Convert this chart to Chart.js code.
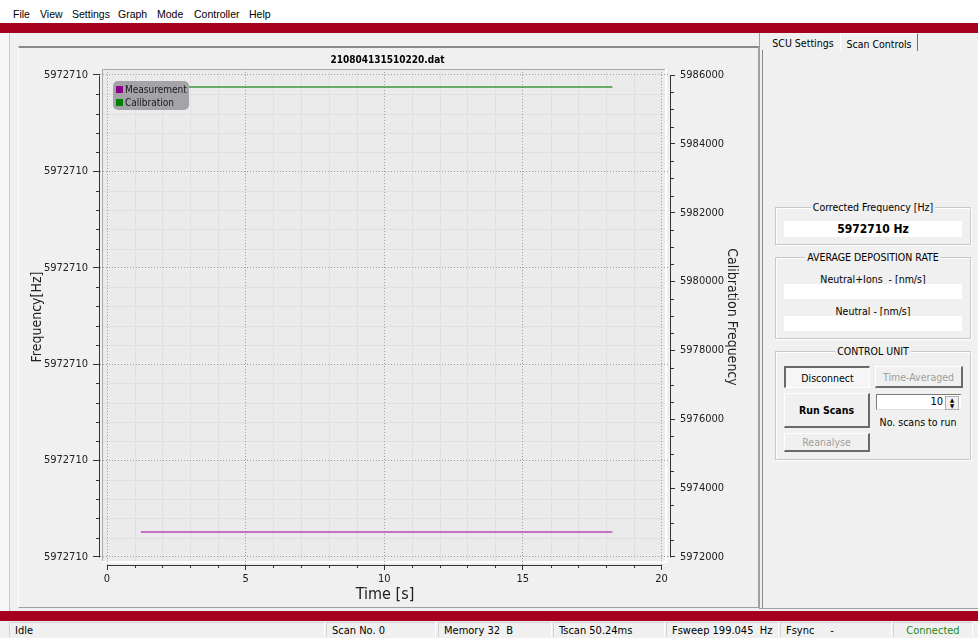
<!DOCTYPE html>
<html>
<head>
<meta charset="utf-8">
<title>SCU</title>
<script src="https://cdn.jsdelivr.net/npm/chart.js@4.4.1/dist/chart.umd.min.js"></script>
<style>
  html, body { margin: 0; padding: 0; }
  body {
    width: 978px; height: 638px; position: relative; overflow: hidden;
    background: #f0f0f0; color: #000;
    font-family: Tahoma, "DejaVu Sans Condensed", "Liberation Sans", Arial, sans-serif;
    font-size: 11px;
  }
  .abs { position: absolute; }
  #menubar { left: 0; top: 0; width: 978px; height: 23px; background: #fff; }
  #menubar span { position: absolute; top: 8px; font-size: 10.5px; font-family: "Liberation Sans", Arial, sans-serif; }
  .redbar { left: 0; width: 978px; height: 10px; background: #a5001e; }
  #leftstrip { left: 0; top: 33px; width: 9px; height: 578px; background: #f7f7f7; border-right: 1px solid #c8c8c8; }
  #chartPanel { left: 18px; top: 46px; width: 739px; height: 559px; border-top: 2px solid #8a8a8a; border-left: 1px solid #fff; border-bottom: 1px solid #a0a0a0; border-right: 1px solid #a0a0a0; }
  #freqChart { position: absolute; left: 19px; top: 49px; }
  #rightPanel { left: 759px; top: 33px; width: 218px; height: 575px; border-left: 1px solid #a0a0a0; border-bottom: 1px solid #a0a0a0; }
  #splitter { left: 762px; top: 50px; width: 1px; height: 558px; background: #8a8a8a; }
  .tab { position: absolute; top: 36px; height: 15px; line-height: 15px; text-align: center; font-size: 10.5px; }
  #tabScu { left: 766px; width: 74px; }
  #tabScan { left: 840px; top: 33px; width: 76px; height: 17px; line-height: 20px; border-left: 1px solid #fff; border-top: 1px solid #fff; border-right: 1px solid #707070; }
  .group { position: absolute; left: 775px; width: 194px; border: 1px solid #c8c8c8; box-shadow: inset 1px 1px 0 #fff, 1px 1px 0 #fff; }
  .gtitle { position: absolute; top: -7px; left: 0; width: 100%; text-align: center; font-size: 10.5px; }
  .gtitle span { background: #f0f0f0; padding: 0 2px; }
  .field { position: absolute; left: 8px; width: 178px; background: #fff; }
  .lbl { position: absolute; left: 0; width: 100%; text-align: center; font-size: 10.5px; }
  .btn { position: absolute; box-sizing: border-box; text-align: center; background: #f0f0f0; font-size: 10.5px;
         border-top: 1px solid #fff; border-left: 1px solid #fff; border-right: 2px solid #696969; border-bottom: 2px solid #696969; }
  .btn.dis { color: #a0a0a0; }
  .btn.down { border-top: 2px solid #696969; border-left: 2px solid #696969; border-right: 1px solid #fff; border-bottom: 1px solid #fff; background: #f6f6f6; }
  #status { left: 0; top: 621px; width: 978px; height: 17px; }
  .sec { position: absolute; top: 1px; height: 15px; line-height: 15px; box-sizing: border-box;
         border-top: 1px solid #d2d2d2; border-left: 1px solid #d2d2d2; border-right: 1px solid #fff; padding-left: 5px; }
</style>
</head>
<body>
<div id="menubar" class="abs">
  <span style="left:13px">File</span>
  <span style="left:40px">View</span>
  <span style="left:72px">Settings</span>
  <span style="left:118px">Graph</span>
  <span style="left:157px">Mode</span>
  <span style="left:194px">Controller</span>
  <span style="left:249px">Help</span>
</div>
<div class="abs redbar" style="top:23px"></div>
<div id="leftstrip" class="abs"></div>
<div id="chartPanel" class="abs"></div>
<canvas id="freqChart" width="737" height="556"></canvas>

<div id="rightPanel" class="abs"></div>
<div id="splitter" class="abs"></div>
<div id="tabScu" class="tab">SCU Settings</div>
<div id="tabScan" class="tab">Scan Controls</div>

<div class="group" style="top:207px;height:36px">
  <div class="gtitle"><span>Corrected Frequency [Hz]</span></div>
  <div class="field" style="top:13px;height:16px;line-height:16px;text-align:center;font-weight:bold;font-size:12px">5972710 Hz</div>
</div>
<div class="group" style="top:257px;height:80px">
  <div class="gtitle"><span>AVERAGE DEPOSITION RATE</span></div>
  <div class="lbl" style="top:15px">Neutral+Ions&nbsp; - [nm/s]</div>
  <div class="field" style="top:26px;height:15px"></div>
  <div class="lbl" style="top:47px">Neutral - [nm/s]</div>
  <div class="field" style="top:58px;height:15px"></div>
</div>
<div class="group" style="top:351px;height:107px">
  <div class="gtitle"><span>CONTROL UNIT</span></div>
</div>
<div class="btn down" style="left:784px;top:366px;width:86px;height:22px;line-height:20px">Disconnect</div>
<div class="btn dis" style="left:875px;top:366px;width:88px;height:22px;line-height:20px">Time-Averaged</div>
<div class="btn" style="left:784px;top:393px;width:86px;height:35px;line-height:33px;font-weight:bold">Run Scans</div>
<div class="btn dis" style="left:784px;top:433px;width:86px;height:19px;line-height:17px">Reanalyse</div>
<div class="abs" style="left:876px;top:394px;width:84px;height:14px;background:#fff;border-top:1px solid #7a7a7a;border-left:1px solid #7a7a7a;border-bottom:1px solid #e0e0e0">
  <div class="abs" style="right:18px;top:0;line-height:14px">10</div>
  <div class="abs" style="right:2px;top:1px;width:12px;height:12px;border:1px solid #b0b0b0;background:#f0f0f0;font-size:6px;line-height:6px;text-align:center">▲<br>▼</div>
</div>
<div class="abs" style="left:876px;top:416px;width:84px;text-align:center;font-size:10.5px">No. scans to run</div>

<div class="abs redbar" style="top:611px"></div>
<div id="status" class="abs">
  <div class="sec" style="left:9px;width:316px">Idle</div>
  <div class="sec" style="left:326px;width:110px">Scan No. 0</div>
  <div class="sec" style="left:438px;width:114px">Memory 32&nbsp; B</div>
  <div class="sec" style="left:553px;width:112px">Tscan 50.24ms</div>
  <div class="sec" style="left:666px;width:113px">Fsweep 199.045&nbsp; Hz</div>
  <div class="sec" style="left:780px;width:112px">Fsync&nbsp;&nbsp;&nbsp;&nbsp; -</div>
  <div class="sec" style="left:893px;width:80px;text-align:center;padding-left:0;color:#1a8a1a">Connected</div>
</div>

<script>
// values
var timeSec = [1.22, 2.9, 4.6, 6.3, 8.0, 9.7, 11.4, 13.1, 14.8, 16.5, 18.23];
var measurementHz = [5972710.026, 5972710.026, 5972710.026, 5972710.026, 5972710.026, 5972710.026,
                     5972710.026, 5972710.026, 5972710.026, 5972710.026, 5972710.026];
var calibrationHz = [5985651, 5985651, 5985651, 5985651, 5985651, 5985651,
                     5985651, 5985651, 5985651, 5985651, 5985651];

// axis ticks
var xTickValues = [0, 5, 10, 15, 20];
var xTickLabels = ['0', '5', '10', '15', '20'];
var leftTickValues = [5972710.0, 5972710.1, 5972710.2, 5972710.3, 5972710.4, 5972710.5];
var leftTickLabels = ['5972710', '5972710', '5972710', '5972710', '5972710', '5972710'];
var rightTickValues = [5972000, 5974000, 5976000, 5978000, 5980000, 5982000, 5984000, 5986000];
var rightTickLabels = ['5972000', '5974000', '5976000', '5978000', '5980000', '5982000', '5984000', '5986000'];
var xMinorSteps = 5, leftMinorSteps = 5, rightMinorSteps = 4;

var uiFont = 'Tahoma, "DejaVu Sans Condensed", "Liberation Sans", Arial, sans-serif';
Chart.defaults.font.family = uiFont;
Chart.defaults.font.size = 11;
Chart.defaults.color = '#202020';

function pts(ys) {
    return timeSec.map(function (t, i) { return { x: t, y: ys[i] }; });
}

// minor positions between major ticks
function minors(majors, steps) {
    var out = [];
    for (var i = 0; i < majors.length - 1; i++) {
        var d = (majors[i + 1] - majors[i]) / steps;
        for (var k = 1; k < steps; k++) out.push(majors[i] + d * k);
    }
    return out;
}

var px = function (v) { return Math.round(v) + 0.5; };

var plotDecor = {
    id: 'plotDecor',
    beforeDraw: function (chart) {
        var ctx = chart.ctx, a = chart.chartArea, s = chart.scales;
        ctx.save();
        // plot frame
        var fl = a.left + 2, ft = a.top, fr = a.right - 5, fb = a.bottom - 4;
        ctx.fillStyle = '#ebebeb';
        ctx.fillRect(fl, ft, fr - fl, fb - ft);
        ctx.lineWidth = 1;
        ctx.strokeStyle = '#a8a8a8';
        ctx.beginPath();
        ctx.moveTo(fl + 0.5, fb); ctx.lineTo(fl + 0.5, ft + 0.5); ctx.lineTo(fr, ft + 0.5);
        ctx.stroke();
        ctx.strokeStyle = '#ffffff';
        ctx.lineWidth = 2;
        ctx.beginPath();
        ctx.moveTo(fl, fb + 1); ctx.lineTo(fr + 1, fb + 1); ctx.lineTo(fr + 1, ft);
        ctx.stroke();
        // minor grid
        ctx.lineWidth = 1;
        ctx.strokeStyle = '#e0e0e0';
        ctx.beginPath();
        minors(xTickValues, xMinorSteps).forEach(function (v) {
            var x = px(s.x.getPixelForValue(v));
            ctx.moveTo(x, ft + 1); ctx.lineTo(x, fb);
        });
        minors(leftTickValues, leftMinorSteps).forEach(function (v) {
            var y = px(s.y.getPixelForValue(v));
            ctx.moveTo(fl + 1, y); ctx.lineTo(fr, y);
        });
        ctx.stroke();
        ctx.restore();
    },
    afterDraw: function (chart) {
        var ctx = chart.ctx, a = chart.chartArea, s = chart.scales;
        ctx.save();
        ctx.strokeStyle = '#333';
        ctx.lineWidth = 1;
        ctx.beginPath();
        // axis lines over the tick span
        var lx = a.left - 0.5, rx = a.right + 0.5, by = a.bottom + 0.5;
        ctx.moveTo(lx, px(s.y.getPixelForValue(leftTickValues[0])));
        ctx.lineTo(lx, px(s.y.getPixelForValue(leftTickValues[leftTickValues.length - 1])));
        ctx.moveTo(rx, px(s.y1.getPixelForValue(rightTickValues[0])));
        ctx.lineTo(rx, px(s.y1.getPixelForValue(rightTickValues[rightTickValues.length - 1])));
        ctx.moveTo(px(s.x.getPixelForValue(xTickValues[0])), by);
        ctx.lineTo(px(s.x.getPixelForValue(xTickValues[xTickValues.length - 1])), by);
        // minor ticks
        minors(leftTickValues, leftMinorSteps).forEach(function (v) {
            var y = px(s.y.getPixelForValue(v));
            ctx.moveTo(a.left - 4, y); ctx.lineTo(a.left, y);
        });
        minors(rightTickValues, rightMinorSteps).forEach(function (v) {
            var y = px(s.y1.getPixelForValue(v));
            ctx.moveTo(a.right, y); ctx.lineTo(a.right + 4, y);
        });
        minors(xTickValues, xMinorSteps).forEach(function (v) {
            var x = px(s.x.getPixelForValue(v));
            ctx.moveTo(x, a.bottom); ctx.lineTo(x, a.bottom + 3);
        });
        ctx.stroke();

        // legend box
        ctx.font = '10px ' + uiFont;
        var ds = chart.data.datasets;
        var tw = Math.max.apply(null, ds.map(function (d) { return ctx.measureText(d.label).width; }));
        var bx = a.left + 13, byy = a.top + 12, bw = Math.round(tw) + 14, bh = 29;
        ctx.fillStyle = '#a3a3a8';
        ctx.beginPath();
        ctx.roundRect(bx, byy, bw, bh, 5);
        ctx.fill();
        ctx.textBaseline = 'middle';
        ds.forEach(function (d, i) {
            ctx.fillStyle = d.legendColor;
            ctx.fillRect(bx + 3, byy + 5 + i * 13, 7, 7);
            ctx.fillStyle = '#1a1a1a';
            ctx.fillText(d.label, bx + 12, byy + 9 + i * 13);
        });
        ctx.restore();
    }
};

var ctx = document.getElementById('freqChart');
var freqChart = new Chart(ctx, {
    type: 'line',
    data: {
        datasets: [{
            label: 'Measurement',
            data: pts(measurementHz),
            yAxisID: 'y',
            borderColor: '#b84cb8',
            legendColor: '#8b008b',
            borderWidth: 1.5,
            pointRadius: 0,
            tension: 0
        }, {
            label: 'Calibration',
            data: pts(calibrationHz),
            yAxisID: 'y1',
            borderColor: '#3f973f',
            legendColor: '#008000',
            borderWidth: 1.5,
            pointRadius: 0,
            tension: 0
        }]
    },
    options: {
        responsive: false,
        animation: false,
        events: [],
        layout: { padding: 0 },
        plugins: {
            legend: { display: false },
            tooltip: { enabled: false },
            title: {
                display: true,
                text: '210804131510220.dat',
                color: '#000',
                font: { size: 10, weight: 'bold' },
                padding: { top: 5, bottom: 3 }
            }
        },
        scales: {
            x: {
                type: 'linear',
                bounds: 'data',
                min: -0.2525,
                max: 20.3066,
                afterFit: function (sc) { sc.height = 40; },
                afterBuildTicks: function (sc) { sc.ticks = xTickValues.map(function (v) { return { value: v }; }); },
                ticks: {
                    autoSkip: false, maxRotation: 0, padding: 3,
                    callback: function (v, i) { return xTickLabels[i]; }
                },
                grid: { color: '#a0a0a0', tickLength: 5, tickColor: '#333' },
                border: { display: false, dash: [1, 2] },
                title: { display: true, text: 'Time [s]', font: { size: 16 }, color: '#202020', padding: { top: 0, bottom: 0.4 } }
            },
            y: {
                type: 'linear',
                position: 'left',
                bounds: 'data',
                min: 5972709.99170,
                max: 5972710.50622,
                afterFit: function (sc) { sc.width = 81; },
                afterBuildTicks: function (sc) { sc.ticks = leftTickValues.map(function (v) { return { value: v }; }); },
                ticks: {
                    autoSkip: false, padding: 5,
                    callback: function (v, i) { return leftTickLabels[i]; }
                },
                grid: { color: '#a0a0a0', tickLength: 7, tickColor: '#333' },
                border: { display: false, dash: [1, 2] },
                title: { display: true, text: 'Frequency[Hz]', font: { size: 14 }, color: '#202020', padding: { top: 9.6, bottom: 0 } }
            },
            y1: {
                type: 'linear',
                position: 'right',
                bounds: 'data',
                min: 5971767.6,
                max: 5986174.3,
                afterFit: function (sc) { sc.width = 86; },
                afterBuildTicks: function (sc) { sc.ticks = rightTickValues.map(function (v) { return { value: v }; }); },
                ticks: {
                    autoSkip: false, padding: 5,
                    callback: function (v, i) { return rightTickLabels[i]; }
                },
                grid: { drawOnChartArea: false, tickLength: 5, tickColor: '#333' },
                border: { display: false },
                title: { display: true, text: 'Calibration Frequency', font: { size: 14 }, color: '#202020', padding: { top: 15.6, bottom: 0 } }
            }
        }
    },
    plugins: [plotDecor]
});
</script>
</body>
</html>
